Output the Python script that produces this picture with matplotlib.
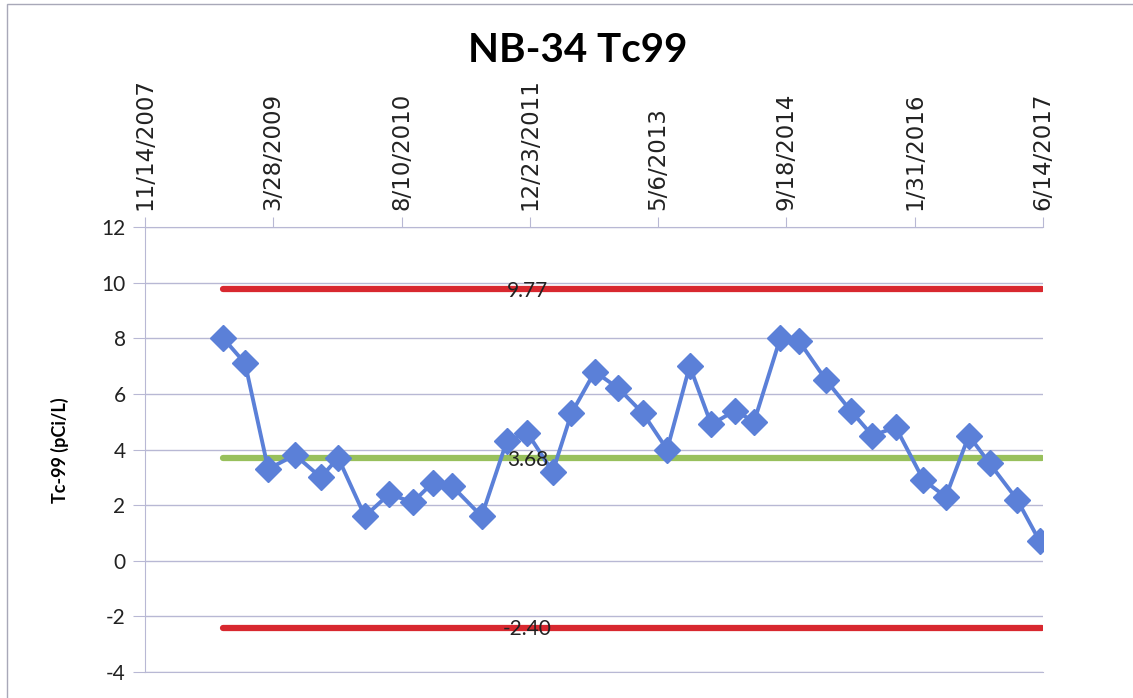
import matplotlib
matplotlib.use("Agg")
import matplotlib.pyplot as plt
from matplotlib.patches import Rectangle
import numpy as np

plt.rcParams["axes.unicode_minus"] = False

# sample dates (approximate) and Tc-99 results
sample_dates = [
    "2008-09-14", "2008-12-08", "2009-03-08", "2009-06-21", "2009-09-29", "2009-12-06",
    "2010-03-20", "2010-06-23", "2010-09-22", "2010-12-09", "2011-02-21", "2011-06-18",
    "2011-09-24", "2011-12-13", "2012-03-21", "2012-06-02", "2012-09-01", "2012-12-02",
    "2013-03-08", "2013-06-10", "2013-09-06", "2013-11-29", "2014-03-02", "2014-05-15",
    "2014-08-25", "2014-11-06", "2015-02-19", "2015-05-26", "2015-08-19", "2015-11-18",
    "2016-03-05", "2016-05-31", "2016-08-29", "2016-11-18", "2017-03-05", "2017-06-01",
]
tc99 = [
    8.0, 7.1, 3.3, 3.8, 3.0, 3.7,
    1.6, 2.4, 2.1, 2.8, 2.7, 1.6,
    4.3, 4.6, 3.2, 5.3, 6.8, 6.2,
    5.3, 4.0, 7.0, 4.9, 5.4, 5.0,
    8.0, 7.9, 6.5, 5.4, 4.5, 4.8,
    2.9, 2.3, 4.5, 3.5, 2.2, 0.7,
]

# control limits
upper_limit = 9.77
mean_line = 3.68
lower_limit = -2.40

tick_dates = ["2007-11-14", "2009-03-28", "2010-08-10", "2011-12-23",
              "2013-05-06", "2014-09-18", "2016-01-31", "2017-06-14"]
tick_labels = ["11/14/2007", "3/28/2009", "8/10/2010", "12/23/2011",
               "5/6/2013", "9/18/2014", "1/31/2016", "6/14/2017"]

dates = np.array(sample_dates, dtype="datetime64[D]")
ticks = np.array(tick_dates, dtype="datetime64[D]")
# the limit lines span from the first to the last sample; labels sit at the 14th sample
line_x = [dates[0], ticks[-1] - np.timedelta64(4, "D")]
label_x = dates[13]

W, H = 1133, 698
fig = plt.figure(figsize=(W / 100, H / 100), dpi=100)
ax = fig.add_axes([145 / W, 1 - 672 / H, (1043 - 145) / W, (672 - 227) / H])

grid_col = "#b8b8d4"
ax.set_ylim(-4, 12)
ax.set_yticks(np.arange(-4, 13, 2))
ax.set_xlim(ticks[0], ticks[-1])
ax.set_xticks(ticks)
ax.set_xticklabels(tick_labels, rotation=90, fontsize=16.5, color="#222222",
                   family="DejaVu Sans")
ax.xaxis.tick_top()
ax.tick_params(axis="x", direction="out", length=7, color=grid_col, pad=5)
ax.tick_params(axis="y", direction="out", length=9, color=grid_col, pad=5,
               labelsize=15, labelcolor="#222222")
for lab in ax.get_yticklabels():
    lab.set_family(["Lato", "DejaVu Sans"])

ax.grid(axis="y", color=grid_col, linewidth=1.0)
ax.set_axisbelow(True)
ax.spines["right"].set_visible(False)
for side in ["top", "left", "bottom"]:
    ax.spines[side].set_color(grid_col)

# control lines
ax.plot(line_x, [upper_limit] * 2, color="#d8282f", linewidth=4.5, solid_capstyle="round", zorder=2)
ax.plot(line_x, [lower_limit] * 2, color="#d8282f", linewidth=4.5, solid_capstyle="round", zorder=2)
ax.plot(line_x, [mean_line] * 2, color="#98c05c", linewidth=4.5, solid_capstyle="round", zorder=2)

# data series
ax.plot(dates, tc99, color="#5b80d8", linewidth=2.8, marker="D", markersize=13.5,
        markerfacecolor="#5b80d8", markeredgecolor="#5b80d8", zorder=4)

for v in [upper_limit, mean_line, lower_limit]:
    ax.text(label_x, v - 0.07, f"{v:.2f}", ha="center", va="center", fontsize=15,
            color="#222222", family=["Lato", "DejaVu Sans"], zorder=5)

fig.text(578 / W, 1 - 50 / H, "NB-34 Tc99", ha="center", va="center", fontsize=29,
         fontweight="bold", family=["Liberation Sans Narrow", "Lato", "DejaVu Sans"])
fig.text(60 / W, 1 - 450 / H, "Tc-99 (pCi/L)", ha="center", va="center", rotation=90,
         fontsize=13, fontweight="bold", family=["Lato", "DejaVu Sans"])

# chart area border (only top and left visible in the crop)
fig.patches.append(Rectangle((7 / W, -0.1), 1.2, 1 - 4 / H + 0.1, transform=fig.transFigure,
                             fill=False, edgecolor="#a8a8b8", linewidth=1.0))

fig.savefig("out.png", dpi=100)
